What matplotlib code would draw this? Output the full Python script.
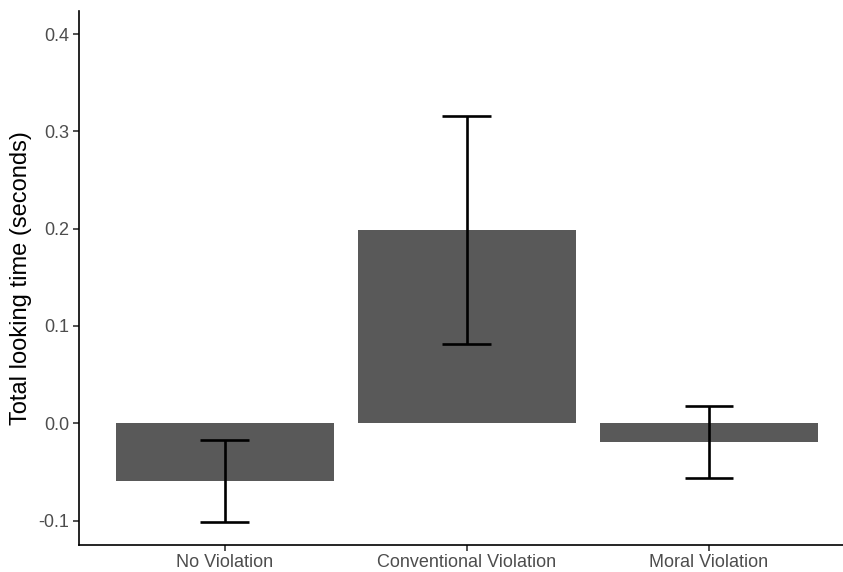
import matplotlib
matplotlib.use("Agg")
import matplotlib.pyplot as plt
import numpy as np

plt.rcParams['font.family'] = ['Liberation Sans', 'DejaVu Sans']

# data
conditions = ["No Violation", "Conventional Violation", "Moral Violation"]
means = [-0.0593, 0.199, -0.0192]
se = [0.0422, 0.117, 0.0368]

fig = plt.figure(figsize=(8.43, 5.72), dpi=100)
# panel runs a bit past the right edge, like the cropped original
ax = fig.add_axes([0.0941, 0.0477, 0.919, 0.933])

x = np.arange(1, len(conditions) + 1)
ax.bar(x, means, width=0.9, color="#595959")

lo = np.array(means) - np.array(se)
hi = np.array(means) + np.array(se)
ax.vlines(x, lo, hi, color="black", linewidth=1.9)
ax.hlines(lo, x - 0.1, x + 0.1, color="black", linewidth=1.9)
ax.hlines(hi, x - 0.1, x + 0.1, color="black", linewidth=1.9)

ax.set_xlim(0.4, 3.6)
ax.set_ylim(-0.1248, 0.4237)
ax.set_xticks(x)
ax.set_xticklabels(conditions)
ax.set_yticks([-0.1, 0.0, 0.1, 0.2, 0.3, 0.4])
ax.set_yticklabels(["-0.1", "0.0", "0.1", "0.2", "0.3", "0.4"])
ax.set_ylabel("Total looking time (seconds)", fontsize=17, color="black", labelpad=5)

for s in ["top", "right"]:
    ax.spines[s].set_visible(False)
for s in ["left", "bottom"]:
    ax.spines[s].set_linewidth(1.2)
    ax.spines[s].set_color("black")
ax.tick_params(axis="both", length=4, width=1.2, color="#333333",
               labelsize=13, labelcolor="#4D4D4D", pad=3)

fig.savefig("out.png", dpi=100)
